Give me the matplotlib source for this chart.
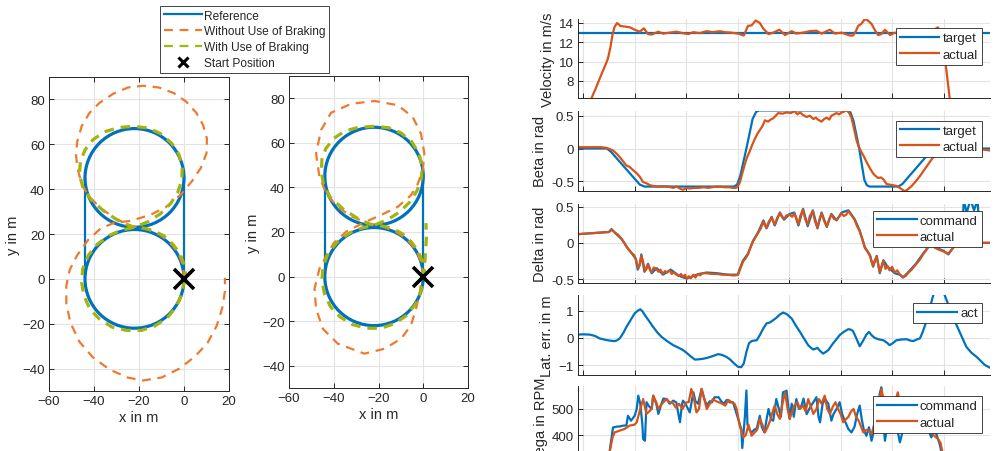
import matplotlib
matplotlib.use("Agg")
import matplotlib.pyplot as plt
from matplotlib.lines import Line2D
from matplotlib.patches import Circle

plt.rcParams['font.family'] = ['Liberation Sans', 'DejaVu Sans']
plt.rcParams['text.color'] = '#262626'
plt.rcParams['axes.labelcolor'] = '#262626'
plt.rcParams['xtick.color'] = '#262626'
plt.rcParams['ytick.color'] = '#262626'

BLUE = '#0072BD'
ORANGE = '#EC7B30'
GREEN = '#A3B40E'
RED = '#D95319'
GRID = '#E3E3E3'

# ---------------- trajectory data (x, y in m) ----------------
ref_centers = [(-22, 45), (-22, 0)]
ref_radius = 22
ref_line_left_x = [-44, -44]
ref_line_left_y = [45, 3]
ref_line_right_x = [0, 0]
ref_line_right_y = [0, 45]
start_pos = (0, 0)

# plot 1
nb1_x = [0.0, -0.5, -2.5, -6.0, -11.0, -17.0, -23.0, -30.0, -37.0, -42.5,
         -45.5, -47.3, -48.0, -47.5, -45.5, -42.0, -37.5, -31.5, -25.0, -18.1,
         -11.0, -4.5, 1.0, 5.5, 8.5, 10.2, 10.0, 7.5, 3.5, -1.5,
         -8.0, -15.0, -24.0, -31.0, -37.0, -42.5, -47.5, -50.8, -52.3, -52.3,
         -50.5, -46.5, -40.5, -33.0, -25.0, -18.2, -10.0, -2.0, 5.0, 10.5,
         14.5, 17.0, 18.2, 18.2]
nb1_y = [0.0, 6.0, 11.5, 16.0, 20.0, 22.3, 23.5, 26.5, 31.5, 37.0,
         42.5, 49.0, 55.0, 61.0, 68.0, 74.0, 78.5, 82.5, 85.3, 86.1,
         85.3, 82.8, 79.0, 74.0, 68.5, 62.5, 56.0, 49.5, 43.5, 37.5,
         32.0, 28.5, 25.8, 25.0, 22.5, 17.5, 10.5, 4.0, -3.0, -11.0,
         -19.5, -28.0, -35.0, -40.5, -44.0, -45.3, -44.0, -40.0, -34.5, -28.5,
         -21.0, -13.0, -5.5, 0.5]
wb1_x = [0.5, 0.6, -0.2, -2.0, -5.0, -9.0, -14.0, -19.0, -24.0, -30.0,
         -36.0, -41.5, -45.0, -46.5, -46.0, -44.0, -40.5, -35.5, -29.0, -22.5,
         -16.0, -10.5, -5.5, -2.3, -0.8, -1.0, -2.8, -6.0, -10.5, -16.0,
         -22.0, -27.5, -33.0, -38.5, -42.5, -45.0, -45.5, -44.5, -41.8, -37.5,
         -32.0, -25.5, -19.0, -13.0, -7.5, -3.5, -1.0, 0.0]
wb1_y = [-1.0, 3.0, 7.0, 11.5, 15.5, 19.2, 21.7, 22.8, 23.5, 26.5,
         30.5, 35.5, 41.0, 46.7, 52.5, 57.5, 62.0, 65.5, 67.5, 68.0,
         67.3, 64.8, 60.5, 55.5, 49.6, 44.0, 38.5, 33.5, 29.0, 25.5,
         23.0, 21.8, 19.5, 15.5, 10.5, 4.5, -1.5, -7.5, -13.5, -18.0,
         -21.5, -23.0, -23.0, -21.0, -17.5, -12.5, -7.0, -1.5]

# plot 2
nb2_x = [0.0, -0.8, -3.0, -7.0, -12.0, -18.0, -25.0, -32.0, -38.0, -43.0,
         -46.4, -47.9, -45.7, -41.2, -32.3, -21.8, -11.4, -4.7, -1.0, 0.5,
         -0.2, -2.5, -5.5, -11.4, -18.9, -27.0, -34.5, -40.0, -43.5, -46.4,
         -48.6, -47.9, -44.9, -38.2, -26.3, -17.4, -9.9, -5.5, -3.2, -1.5, -1.0]
nb2_y = [0.0, 6.0, 11.5, 16.5, 20.0, 22.5, 24.0, 27.0, 31.0, 36.5,
         44.7, 55.2, 65.7, 73.5, 77.5, 78.8, 76.9, 71.6, 64.1, 55.2,
         47.7, 41.5, 36.5, 31.3, 27.6, 24.0, 20.1, 15.0, 9.0, 3.5,
         -5.5, -14.4, -23.4, -30.1, -34.6, -32.4, -27.9, -21.9, -14.4, -7.0, -3.0]
wb2_x = [0.5, 0.3, -0.5, -2.3, -5.3, -9.3, -14.0, -19.0, -24.0, -30.0,
         -36.0, -41.5, -44.5, -45.5, -45.3, -43.5, -40.0, -35.0, -28.8, -22.0,
         -15.5, -10.0, -5.2, -2.0, -0.5, -0.8, -2.8, -6.0, -10.5, -16.0,
         -22.0, -27.5, -33.0, -38.5, -42.5, -44.8, -45.3, -44.2, -41.5, -37.3,
         -31.8, -25.3, -19.0, -13.0, -7.5, -3.5, -1.2, 0.0, 0.8, 1.4, 1.2]
wb2_y = [-1.0, 3.0, 7.0, 11.5, 15.5, 19.2, 21.7, 22.8, 23.5, 26.5,
         30.5, 35.5, 41.0, 46.7, 52.5, 57.5, 62.0, 65.3, 67.0, 67.4,
         66.8, 64.5, 60.5, 55.5, 49.6, 44.0, 38.5, 33.5, 29.0, 25.5,
         23.0, 21.8, 19.5, 15.5, 10.5, 4.5, -1.5, -7.5, -13.5, -18.0,
         -21.5, -23.2, -23.2, -21.2, -17.5, -12.5, -7.0, -1.5, 8.0, 17.0, 24.0]

# ---------------- time series (t in s) ----------------
vel_target = 13.0
vel_t = [11.2, 11.6, 12.5, 13.4, 14.2, 14.8, 15.3, 15.7, 16.1, 16.6,
         17.2, 17.8, 19.1, 20.0, 21.0, 21.8, 22.6, 23.3, 24.6, 25.5,
         26.8, 28.1, 29.3, 30.4, 31.4, 32.6, 34.0, 35.2, 36.5, 37.5,
         38.8, 40.1, 41.2, 41.6, 42.0, 42.7, 43.5, 44.3, 45.0, 46.0,
         46.9, 48.1, 49.2, 50.5, 51.4, 52.7, 54.0, 55.3, 56.3, 57.9,
         58.9, 60.2, 61.0, 61.8, 62.4, 63.0, 63.4, 64.0, 64.7, 65.3,
         66.0, 66.7, 67.3, 67.9, 68.6, 69.6, 70.5, 71.5, 72.8, 74.0,
         75.2, 76.5, 77.8, 78.9, 79.6, 80.2, 81.2, 81.6]
vel_act = [5.5, 6.2, 7.3, 8.5, 9.5, 10.3, 11.5, 12.8, 13.6, 14.0,
           13.7, 13.65, 13.55, 13.3, 13.1, 13.45, 12.85, 12.8, 13.1, 12.9,
           13.0, 13.1, 12.95, 12.85, 13.05, 12.95, 13.15, 13.05, 13.15, 13.05,
           13.0, 12.9, 12.7, 13.2, 13.7, 13.75, 14.25, 14.0, 13.4, 12.85,
           13.0, 13.3, 12.75, 13.15, 12.9, 13.0, 13.15, 13.2, 12.9, 13.3,
           12.9, 13.0, 12.85, 12.7, 12.7, 13.2, 13.7, 13.9, 14.4, 14.25,
           13.9, 13.2, 12.75, 12.85, 13.3, 12.75, 13.0, 12.85, 13.2, 12.9,
           13.1, 13.0, 13.2, 13.55, 12.5, 10.6, 6.1, 4.5]

beta_tgt_t = [9, 14.6, 15.4, 21.0, 21.9, 39.3, 39.9, 40.5, 41.7, 42.9,
              43.6, 44.2, 61.3, 61.9, 62.5, 63.6, 64.6, 65.1, 65.6, 71.2,
              72.0, 77.5, 78.4, 89]
beta_tgt = [0, 0, -0.05, -0.55, -0.58, -0.58, -0.55, -0.42, 0.0, 0.45,
            0.56, 0.58, 0.58, 0.55, 0.42, 0.0, -0.48, -0.56, -0.58, -0.58,
            -0.54, -0.04, 0, 0]
beta_act_t = [9, 13.5, 14.5, 15.2, 15.8, 16.5, 17.1, 17.8, 18.4, 19.0,
              19.7, 20.3, 21.0, 21.6, 22.3, 23.0, 23.6, 24.5, 25.5, 26.5,
              27.5, 28.1, 28.8, 29.4, 30.1, 30.7, 31.5, 32.5, 33.3, 34.3,
              35.4, 36.5, 37.5, 38.4, 39.1, 39.7, 40.1, 40.4, 40.7, 41.0,
              41.4, 41.8, 42.3, 42.8, 43.3, 43.8, 44.3, 44.8, 45.3, 45.9,
              46.4, 46.9, 47.4, 47.9, 48.7, 49.5, 50.3, 51.1, 51.6, 52.1,
              52.7, 53.4, 54.0, 54.7, 55.2, 55.6, 56.3, 56.8, 57.3, 57.8,
              58.2, 58.7, 59.2, 59.7, 60.2, 60.6, 61.1, 61.6, 62.1, 62.6,
              63.1, 63.5, 64.0, 64.5, 65.0, 65.6, 66.3, 66.8, 67.3, 67.8,
              68.3, 68.9, 69.5, 70.2, 70.8, 71.5, 72.0, 72.5, 73.1, 73.8,
              74.6, 75.4, 76.2, 77.0, 77.8, 78.5, 79.2, 80.0, 81.0, 83.0,
              85.0, 87.0, 89.0]
beta_act = [0.02, 0.02, 0.01, -0.01, -0.03, -0.08, -0.13, -0.2, -0.26, -0.28,
            -0.33, -0.37, -0.43, -0.51, -0.53, -0.56, -0.57, -0.58, -0.575, -0.58,
            -0.6, -0.58, -0.61, -0.63, -0.6, -0.61, -0.6, -0.6, -0.59, -0.6,
            -0.585, -0.58, -0.59, -0.59, -0.6, -0.6, -0.57, -0.52, -0.44, -0.35,
            -0.24, -0.14, -0.05, 0.05, 0.14, 0.22, 0.28, 0.34, 0.43, 0.41,
            0.44, 0.46, 0.5, 0.54, 0.53, 0.55, 0.54, 0.57, 0.52, 0.55,
            0.51, 0.48, 0.5, 0.45, 0.47, 0.44, 0.41, 0.45, 0.47, 0.44,
            0.5, 0.52, 0.54, 0.52, 0.55, 0.56, 0.58, 0.55, 0.47, 0.3,
            0.12, 0.03, -0.05, -0.12, -0.2, -0.29, -0.38, -0.42, -0.45, -0.44,
            -0.47, -0.54, -0.55, -0.56, -0.57, -0.6, -0.63, -0.65, -0.62, -0.57,
            -0.5, -0.42, -0.33, -0.24, -0.15, -0.08, -0.04, -0.02, 0.0, -0.01,
            0.0, -0.01, -0.03]

delta_t = [9.0, 11.0, 13.0, 15.0, 15.6, 16.2, 16.8, 17.4, 18.0, 18.4,
           18.9, 19.4, 19.9, 20.3, 20.7, 21.0, 21.3, 21.6, 22.0, 22.3,
           22.6, 23.0, 23.3, 23.7, 24.2, 24.6, 25.0, 25.5, 25.9, 26.3,
           26.8, 27.2, 27.6, 28.1, 28.6, 29.0, 29.4, 29.8, 30.1, 30.5,
           30.9, 31.4, 31.8, 32.3, 32.7, 33.2, 34.0, 35.0, 36.0, 37.0,
           38.0, 39.0, 39.6, 40.1, 40.5, 41.1, 41.5, 42.0, 42.5, 43.0,
           43.5, 44.0, 44.5, 45.0, 45.3, 45.6, 46.1, 46.6, 46.9, 47.2,
           47.7, 48.2, 48.6, 49.0, 49.5, 50.1, 50.6, 51.0, 51.4, 51.8,
           52.2, 52.7, 53.1, 53.6, 54.0, 54.6, 55.0, 55.5, 55.9, 56.3,
           56.8, 57.3, 57.8, 58.2, 58.7, 59.2, 59.7, 60.2, 60.6, 61.1,
           61.5, 61.9, 62.3, 62.7, 63.2, 63.7, 64.2, 64.7, 65.2, 65.7,
           66.0, 66.3, 66.6, 67.0, 67.3, 67.6, 67.9, 68.3, 68.7, 69.1,
           69.5, 70.0, 70.5, 71.0, 71.5, 72.1, 72.6, 73.2, 73.8, 74.6,
           75.4, 76.0, 76.7, 77.3, 78.0, 78.6, 79.3, 80.0, 80.9, 81.5,
           82.2, 83.0, 84.0, 86.0, 88.0, 89.0]
delta_act = [0.12, 0.13, 0.14, 0.15, 0.18, 0.14, 0.11, 0.06, 0.0, -0.05,
             -0.1, -0.14, -0.17, -0.24, -0.35, -0.3, -0.18, -0.25, -0.39, -0.36,
             -0.3, -0.38, -0.41, -0.34, -0.36, -0.4, -0.37, -0.43, -0.39, -0.41,
             -0.38, -0.43, -0.41, -0.44, -0.46, -0.43, -0.47, -0.44, -0.5, -0.46,
             -0.49, -0.44, -0.48, -0.43, -0.45, -0.42, -0.42, -0.43, -0.43, -0.44,
             -0.44, -0.45, -0.45, -0.44, -0.36, -0.25, -0.22, -0.16, -0.06, 0.02,
             0.08, 0.14, 0.2, 0.3, 0.24, 0.21, 0.3, 0.35, 0.3, 0.25,
             0.35, 0.41, 0.36, 0.33, 0.38, 0.39, 0.36, 0.41, 0.34, 0.26,
             0.38, 0.46, 0.33, 0.25, 0.37, 0.44, 0.3, 0.21, 0.33, 0.41,
             0.3, 0.23, 0.33, 0.39, 0.33, 0.32, 0.36, 0.41, 0.37, 0.39,
             0.44, 0.4, 0.36, 0.32, 0.23, 0.16, 0.05, -0.07, -0.12, -0.18,
             -0.26, -0.32, -0.25, -0.19, -0.3, -0.41, -0.33, -0.25, -0.36, -0.32,
             -0.38, -0.33, -0.41, -0.38, -0.44, -0.47, -0.46, -0.41, -0.37, -0.3,
             -0.23, -0.16, -0.09, -0.04, -0.05, -0.08, -0.1, -0.12, -0.15, -0.1,
             -0.04, 0.0, 0.0, 0.0, 0.0, 0.0]
delta_cmd_t = [9.0, 15.0, 15.5, 16.3, 17.5, 18.5, 19.5, 20.2, 20.6, 21.0,
               21.3, 21.9, 22.6, 23.3, 24.3, 25.5, 27.0, 28.5, 29.5, 30.1,
               31.0, 32.5, 34.0, 36.0, 38.0, 40.0, 41.0, 42.0, 43.0, 44.0,
               45.0, 45.6, 46.6, 47.2, 48.2, 49.0, 50.1, 51.0, 51.8, 52.7,
               53.6, 54.6, 55.5, 56.3, 57.3, 58.2, 59.2, 60.2, 61.5, 62.7,
               63.7, 64.7, 65.7, 66.3, 67.0, 67.6, 68.3, 69.1, 70.5, 71.5,
               72.1, 73.2, 74.6, 76.0, 77.3, 78.6, 80.0, 80.9, 82.2, 83.5,
               83.9, 84.5, 85.2, 85.9, 86.6, 87.0, 88.0, 89.0]
delta_cmd = [0.12, 0.15, 0.19, 0.13, 0.05, -0.06, -0.15, -0.22, -0.37, -0.3,
             -0.16, -0.4, -0.29, -0.42, -0.35, -0.44, -0.37, -0.45, -0.48, -0.49,
             -0.47, -0.43, -0.41, -0.42, -0.44, -0.44, -0.25, -0.15, 0.03, 0.15,
             0.31, 0.2, 0.36, 0.24, 0.42, 0.32, 0.4, 0.42, 0.24, 0.47,
             0.23, 0.45, 0.2, 0.42, 0.22, 0.4, 0.31, 0.42, 0.45, 0.33,
             0.17, -0.06, -0.17, -0.33, -0.18, -0.42, -0.24, -0.33, -0.42, -0.44,
             -0.48, -0.4, -0.29, -0.15, -0.03, -0.07, -0.11, -0.16, -0.03, 0.0,
             0.58, 0.42, 0.6, 0.45, 0.6, 0.0, 0.0, 0.0]

lat_t = [9.0, 10.0, 11.3, 12.3, 13.2, 14.5, 15.5, 16.1, 16.6, 17.1,
         17.8, 18.4, 19.2, 20.0, 20.6, 21.1, 21.5, 22.0, 22.8, 23.6,
         24.4, 25.2, 26.3, 27.5, 28.5, 29.4, 30.2, 31.0, 31.7, 32.5,
         33.3, 34.0, 35.2, 36.2, 37.0, 37.8, 38.5, 39.3, 40.1, 40.7,
         41.2, 41.7, 42.2, 42.7, 43.2, 43.7, 44.3, 45.0, 45.6, 46.3,
         46.9, 47.6, 48.2, 48.8, 49.5, 50.5, 51.3, 52.1, 52.9, 53.7,
         54.3, 54.7, 55.1, 55.5, 56.0, 56.6, 57.1, 57.6, 58.5, 59.2,
         59.8, 60.6, 61.5, 62.0, 62.4, 63.0, 63.7, 64.0, 64.4, 65.0,
         65.5, 66.0, 66.6, 67.3, 68.3, 69.0, 69.5, 70.1, 70.8, 71.8,
         72.8, 73.5, 74.1, 74.8, 75.4, 75.9, 76.4, 77.3, 77.8, 78.3,
         78.9, 79.5, 80.2, 81.2, 82.5, 83.5, 84.4, 85.4, 86.4, 87.2,
         88.0, 89.0]
lat_err = [0.12, 0.13, 0.12, 0.07, -0.02, -0.08, -0.11, -0.12, -0.09, -0.02,
           0.18, 0.4, 0.65, 0.9, 1.0, 1.05, 0.98, 0.83, 0.62, 0.4,
           0.2, 0.04, -0.12, -0.27, -0.36, -0.45, -0.57, -0.7, -0.8, -0.79,
           -0.77, -0.74, -0.67, -0.6, -0.63, -0.7, -0.79, -0.94, -1.07, -1.08,
           -0.94, -0.52, -0.2, -0.12, -0.1, -0.09, 0.1, 0.35, 0.53, 0.57,
           0.65, 0.75, 0.86, 0.93, 0.88, 0.71, 0.45, 0.22, -0.03, -0.27,
           -0.38, -0.43, -0.4, -0.37, -0.48, -0.58, -0.52, -0.45, -0.21, -0.05,
           0.1, 0.22, 0.32, 0.3, 0.25, 0.0, -0.31, -0.22, -0.09, 0.12,
           0.22, 0.1, 0.0, -0.05, -0.09, -0.18, -0.27, -0.2, -0.09, -0.06,
           -0.05, -0.1, -0.12, -0.06, -0.02, 0.2, 0.47, 1.08, 1.45, 1.75,
           1.9, 1.8, 1.57, 1.08, 0.47, 0.05, -0.33, -0.55, -0.7, -0.85,
           -1.0, -1.1]

omega_cmd_t = [15.0, 15.2, 15.6, 15.8, 16.5, 17.1, 17.8, 18.4, 18.7, 19.3,
               20.0, 20.4, 20.7, 21.1, 21.5, 21.65, 22.0, 22.3, 22.8, 23.3,
               23.6, 24.2, 24.6, 25.2, 25.6, 26.2, 26.8, 27.5, 28.1, 28.5,
               28.8, 29.2, 29.4, 30.0, 30.7, 31.0, 31.4, 31.8, 32.3, 33.0,
               33.5, 34.0, 34.6, 35.0, 35.5, 36.3, 36.8, 37.3, 37.9, 38.5,
               39.1, 39.7, 40.1, 40.7, 40.9, 41.1, 41.4, 41.7, 41.9, 42.3,
               42.7, 43.2, 43.7, 44.3, 44.7, 45.2, 45.7, 46.0, 46.5, 46.9,
               47.5, 48.0, 48.4, 48.8, 49.5, 50.1, 50.5, 50.9, 51.4, 51.9,
               52.4, 52.8, 53.4, 53.9, 54.5, 55.3, 55.7, 56.0, 56.5, 57.0,
               57.6, 58.2, 58.6, 59.2, 59.8, 60.3, 60.8, 61.5, 62.1, 62.7,
               63.2, 63.7, 64.1, 64.5, 65.0, 65.5, 66.0, 66.5, 66.9, 67.3,
               67.6, 67.9, 68.2, 68.6, 69.0, 69.6, 70.5, 71.5, 72.5, 73.5,
               74.5, 75.5, 76.5, 77.6, 78.3, 78.9, 79.3, 79.6, 80.0]
omega_cmd = [300, 346, 400, 429, 432, 433, 436, 437, 474, 455,
             474, 500, 551, 519, 440, 385, 378, 526, 510, 500,
             551, 520, 481, 520, 540, 538, 520, 532, 525, 480,
             449, 520, 532, 515, 487, 520, 564, 530, 520, 577,
             540, 513, 530, 525, 545, 545, 530, 520, 535, 525,
             526, 487, 460, 423, 350, 400, 470, 571, 440, 420,
             410, 420, 425, 474, 430, 410, 470, 500, 460, 455,
             538, 500, 470, 564, 570, 462, 520, 470, 538, 500,
             513, 540, 480, 500, 520, 545, 470, 449, 520, 538,
             520, 455, 480, 500, 526, 480, 455, 423, 410, 432,
             480, 513, 460, 420, 397, 430, 378, 420, 449, 480,
             560, 583, 470, 378, 430, 500, 470, 372, 450, 480,
             470, 460, 450, 391, 420, 385, 360, 330, 300]
omega_act_t = [15.0, 15.2, 15.7, 16.1, 17.1, 18.0, 19.0, 20.0, 20.4, 21.0,
               21.65, 22.3, 22.8, 23.3, 23.6, 24.2, 24.6, 25.3, 26.2, 26.8,
               27.3, 28.0, 28.6, 29.3, 30.0, 30.5, 31.0, 31.5, 32.0, 32.5,
               33.0, 33.5, 34.0, 34.6, 35.2, 35.8, 36.3, 37.0, 37.6, 38.2,
               38.8, 39.4, 39.8, 40.4, 41.1, 41.6, 42.1, 42.7, 43.3, 43.8,
               44.3, 44.8, 45.3, 45.8, 46.3, 46.8, 47.2, 47.7, 48.2, 48.7,
               49.2, 49.7, 50.1, 50.6, 51.0, 51.6, 52.1, 52.7, 53.2, 53.7,
               54.2, 54.7, 55.3, 55.8, 56.3, 56.9, 57.4, 57.9, 58.5, 59.0,
               59.5, 60.0, 60.5, 61.0, 61.5, 62.0, 62.5, 63.0, 63.5, 64.0,
               64.4, 65.0, 65.5, 66.0, 66.5, 67.0, 67.5, 67.9, 68.3, 68.8,
               69.5, 70.5, 71.1, 71.5, 72.5, 73.5, 74.5, 75.5, 76.5, 77.5,
               78.3, 78.9, 79.4, 79.7, 80.0]
omega_act = [300, 340, 390, 410, 417, 423, 436, 440, 449, 494,
             538, 481, 490, 500, 551, 525, 500, 520, 538, 525,
             526, 505, 520, 500, 525, 526, 577, 540, 487, 500,
             577, 540, 500, 520, 538, 530, 526, 520, 513, 535,
             526, 520, 500, 436, 391, 400, 440, 397, 410, 420,
             462, 440, 410, 430, 455, 490, 513, 480, 462, 520,
             564, 500, 462, 490, 513, 526, 500, 513, 490, 538,
             510, 481, 500, 538, 520, 551, 500, 481, 510, 526,
             500, 480, 449, 460, 470, 490, 500, 470, 455, 430,
             410, 420, 415, 404, 440, 462, 520, 577, 540, 500,
             480, 520, 564, 520, 480, 470, 460, 450, 430, 410,
             395, 385, 370, 340, 300]

x_ticks = [10, 20, 30, 40, 50, 60, 70, 80]

W, H = 998, 452
fig = plt.figure(figsize=(W / 100, H / 100), dpi=100)


def fpos(x0, y0, x1, y1):
    return [x0 / W, 1 - y1 / H, (x1 - x0) / W, (y1 - y0) / H]


def style_common(ax, full_box):
    ax.set_facecolor('white')
    ax.grid(True, color=GRID, linewidth=0.8)
    ax.set_axisbelow(True)
    for s in ax.spines.values():
        s.set_color('#262626')
        s.set_linewidth(0.7)
    if full_box:
        ax.tick_params(direction='in', top=True, right=True, length=3.5,
                       width=0.7, labelsize=9.5, pad=3)
    else:
        ax.spines['top'].set_visible(False)
        ax.spines['right'].set_visible(False)
        ax.tick_params(direction='in', length=3.5, width=0.7,
                       labelsize=9.5, pad=3)


def traj_axes(pos, nb_x, nb_y, wb_x, wb_y):
    ax = fig.add_axes(pos)
    style_common(ax, True)
    for c in ref_centers:
        ax.add_patch(Circle(c, ref_radius, fill=False, edgecolor=BLUE,
                            linewidth=2.3, zorder=3))
    ax.plot(ref_line_left_x, ref_line_left_y, color=BLUE, lw=1.6, zorder=3)
    ax.plot(ref_line_right_x, ref_line_right_y, color=BLUE, lw=1.6, zorder=3)
    ax.plot(nb_x, nb_y, color=ORANGE, lw=1.6, dashes=(4, 3), zorder=4)
    ax.plot(wb_x, wb_y, color=GREEN, lw=2.3, dashes=(3, 2.2), zorder=5)
    ax.plot([start_pos[0]], [start_pos[1]], marker='x', color='black',
            markersize=15, markeredgewidth=2.6, linestyle='none', zorder=6)
    ax.set_xlim(-60, 20)
    ax.set_ylim(-50, 90)
    ax.set_xticks([-60, -40, -20, 0, 20])
    ax.set_yticks([-40, -20, 0, 20, 40, 60, 80])
    ax.set_xlabel('x in m', fontsize=10.5, labelpad=2)
    ax.set_ylabel('y in m', fontsize=10.5, labelpad=2)
    return ax


traj_axes(fpos(49, 78, 229, 392), nb1_x, nb1_y, wb1_x, wb1_y)
traj_axes(fpos(289, 77, 468, 389), nb2_x, nb2_y, wb2_x, wb2_y)

handles = [Line2D([], [], color=BLUE, lw=1.6),
           Line2D([], [], color=ORANGE, lw=1.6, dashes=(4, 3)),
           Line2D([], [], color=GREEN, lw=1.6, dashes=(4, 3)),
           Line2D([], [], color='black', marker='x', linestyle='none',
                  markersize=7, markeredgewidth=2.2)]
labels = ['Reference', 'Without Use of Braking', 'With Use of Braking',
          'Start Position']
fig.legend(handles, labels, loc='upper left', bbox_to_anchor=(160 / W, 1 - 7 / H),
           fontsize=8.6, frameon=True, fancybox=False, framealpha=1,
           edgecolor='#262626', borderpad=0.3, handlelength=3.2,
           handletextpad=0.2, labelspacing=0.32, borderaxespad=0)\
    .get_frame().set_linewidth(0.6)


def ts_axes(y0, y1, ylim, yticks, ylabel):
    ax = fig.add_axes(fpos(578, y0, 990, y1))
    style_common(ax, False)
    ax.set_xlim(9, 89)
    ax.set_ylim(*ylim)
    ax.set_xticks(x_ticks)
    ax.set_xticklabels([])
    ax.set_yticks(yticks)
    ax.set_ylabel(ylabel, fontsize=10.5, labelpad=3)
    return ax


def ts_legend(ax, x1, y0, handles, labels):
    leg = ax.legend(handles, labels, loc='upper right',
                    bbox_to_anchor=(x1 / W, 1 - y0 / H),
                    bbox_transform=fig.transFigure, fontsize=9.5,
                    frameon=True, fancybox=False, framealpha=1,
                    edgecolor='#262626', borderpad=0.3, handlelength=3.0,
                    handletextpad=0.25, labelspacing=0.3, borderaxespad=0)
    leg.get_frame().set_linewidth(0.6)
    leg.set_zorder(10)


LW = 1.6
ax1 = ts_axes(20, 99.3, (6.21, 14.41), [8, 10, 12, 14], 'Velocity in m/s')
l1 = ax1.axhline(vel_target, color=BLUE, lw=LW)
l2, = ax1.plot(vel_t, vel_act, color=RED, lw=LW)
ts_legend(ax1, 981.7, 29.3, [l1, l2], ['target', 'actual'])

ax2 = ts_axes(111.7, 191.7, (-0.643, 0.576), [-0.5, 0, 0.5], 'Beta in rad')
l1, = ax2.plot(beta_tgt_t, beta_tgt, color=BLUE, lw=LW)
l2, = ax2.plot(beta_act_t, beta_act, color=RED, lw=LW)
ax2.set_yticklabels(['-0.5', '0', '0.5'])
ts_legend(ax2, 981.7, 121.7, [l1, l2], ['target', 'actual'])

ax3 = ts_axes(205, 284, (-0.555, 0.537), [-0.5, 0, 0.5], 'Delta in rad')
l1, = ax3.plot(delta_cmd_t, delta_cmd, color=BLUE, lw=LW)
l2, = ax3.plot(delta_t, delta_act, color=RED, lw=LW)
ax3.set_yticklabels(['-0.5', '0', '0.5'])
ts_legend(ax3, 981.7, 211.7, [l1, l2], ['command', 'actual'])

ax4 = ts_axes(296, 376, (-1.368, 1.578), [-1, 0, 1], 'Lat. err. in m')
l1, = ax4.plot(lat_t, lat_err, color=BLUE, lw=LW)
ts_legend(ax4, 981.7, 304, [l1], ['act'])

ax5 = ts_axes(387.3, 467.3, (280, 587), [400, 500], 'Omega in RPM')
l1, = ax5.plot(omega_cmd_t, omega_cmd, color=BLUE, lw=LW)
l2, = ax5.plot(omega_act_t, omega_act, color=RED, lw=LW)
ts_legend(ax5, 981.7, 397.3, [l1, l2], ['command', 'actual'])

fig.savefig('out.png', dpi=100)
